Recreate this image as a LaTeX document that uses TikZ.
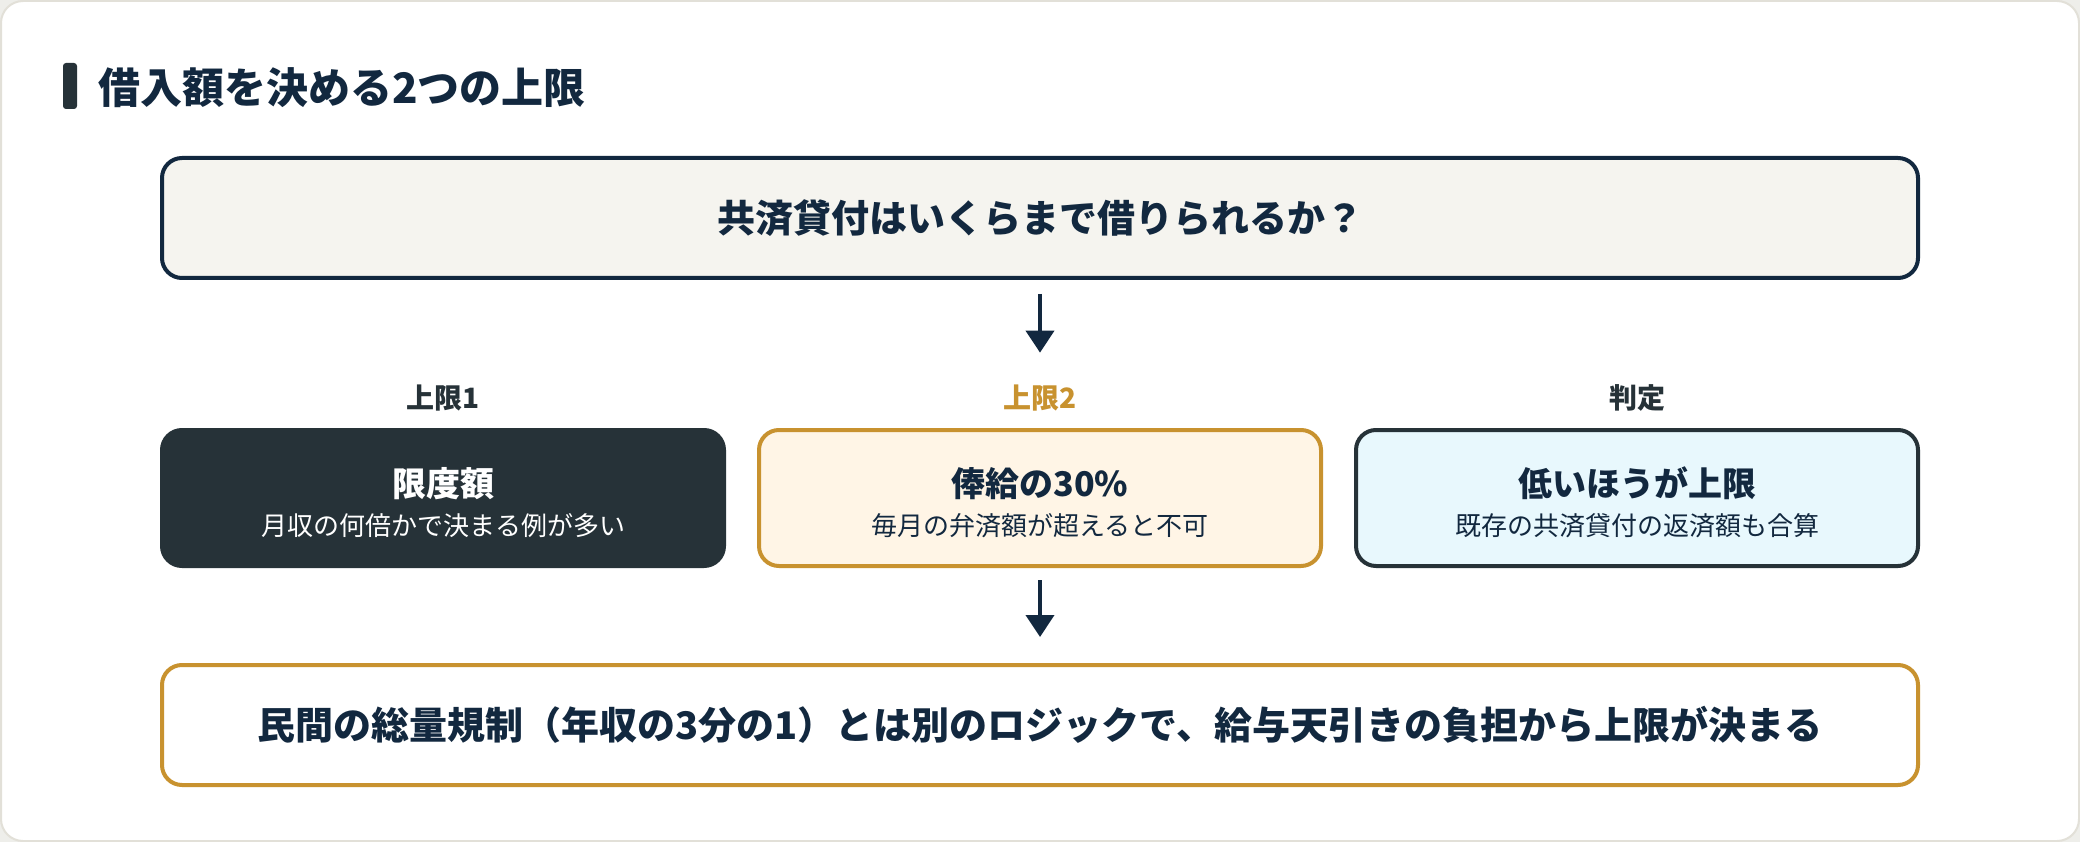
\documentclass[tikz,border=0pt]{standalone}
\usepackage{fontspec}
\setmainfont{Noto Sans CJK JP}
\usepackage{xcolor}
\usepackage{tikz}
\usetikzlibrary{arrows.meta}
\usetikzlibrary{positioning}

\definecolor{navy}{HTML}{12283F}
\definecolor{slate}{HTML}{263238}
\definecolor{cream}{HTML}{F5F4EF}
\definecolor{gold}{HTML}{C8922F}
\definecolor{peach}{HTML}{FFF5E6}
\definecolor{ice}{HTML}{E8F8FD}
\definecolor{cardline}{HTML}{E2E0D8}
\definecolor{pagebg}{HTML}{EEEEEA}

\begin{document}
\begin{tikzpicture}[x=1pt, y=-1pt, >={Triangle[width=28pt,length=22pt]}, node distance = 280pt and 597pt, on grid,
	box/.style ={rectangle, rounded corners=20pt, line width=4pt, inner sep=0pt, align=center, text=navy},
	wide/.style ={box, minimum width=1756pt, minimum height=120pt, font=\fontsize{38}{46}\selectfont\bfseries},
	cell/.style ={box, minimum width=562pt, minimum height=136pt, font=\fontsize{26}{39}\selectfont},
	tag/.style ={inner sep=0pt, font=\fontsize{28}{28}\selectfont\bfseries, text=slate},
	flow/.style ={->, line width=4pt, navy}]
\useasboundingbox (0,0) rectangle (2080,842);
\fill[pagebg] (0,0) rectangle (2080,842);
\draw[cardline, fill=white, line width=2pt, rounded corners=22pt] (1,1) rectangle (2079,841);
%heading
\fill[slate, rounded corners=3pt] (63,63) rectangle (77,109);
\node[anchor=west, inner sep=0pt, font=\fontsize{42}{50}\selectfont\bfseries, text=navy] (head) at (98,88) {借入額を決める2つの上限};
\node[wide, fill=cream, draw=navy] (q) at (1040,218) {共済貸付はいくらまで借りられるか？};
\node[cell, fill=peach, draw=gold] (lim2) [below =of q] {\rule{0pt}{38pt}\textbf{\fontsize{34}{39}\selectfont 俸給の30\%}\\毎月の弁済額が超えると不可};
\node[cell, fill=slate, draw=slate, text=white] (lim1) [left =of lim2] {\rule{0pt}{38pt}\textbf{\fontsize{34}{39}\selectfont 限度額}\\月収の何倍かで決まる例が多い};
\node[cell, fill=ice, draw=slate] (judge) [right =of lim2] {\rule{0pt}{38pt}\textbf{\fontsize{34}{39}\selectfont 低いほうが上限}\\既存の共済貸付の返済額も合算};
\node[tag] (t1) [above =100pt of lim1] {上限1};
\node[tag, text=gold] (t2) [above =100pt of lim2] {上限2};
\node[tag] (t3) [above =100pt of judge] {判定};
\node[wide, fill=white, draw=gold] (rule) [below =227pt of lim2] {民間の総量規制（年収の3分の1）とは別のロジックで、給与天引きの負担から上限が決まる};
\path[flow]
		(q) edge[shorten <=14pt, shorten >=32pt]	(t2)
		(lim2) edge[shorten <=12pt, shorten >=26pt]	(rule)
		;
\end{tikzpicture}
\end{document}
